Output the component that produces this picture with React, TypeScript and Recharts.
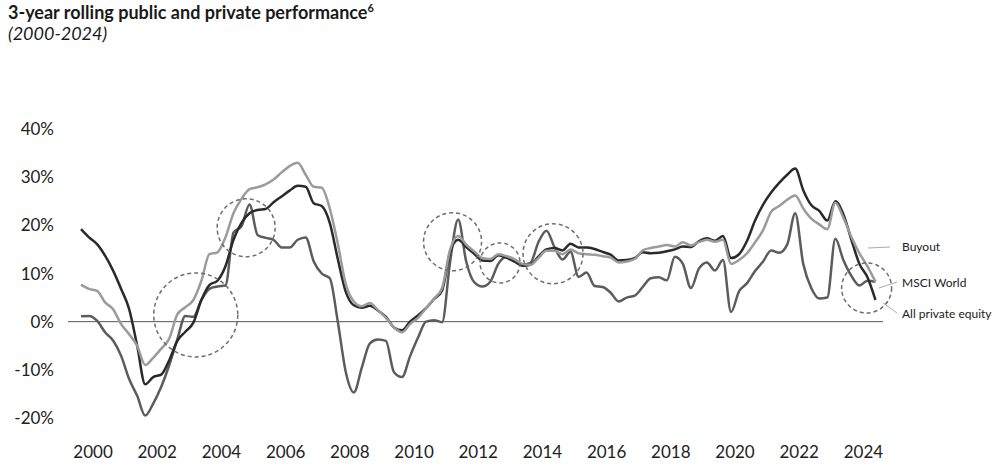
import { LineChart, Line, XAxis, YAxis, ReferenceLine, ReferenceDot } from 'recharts'

// quarterly readings, first point ~ mid 1999, last ~ mid 2024
const startYear = 1999.625
const step = 0.25

const allPrivateEquity = [
  19.2, 17.5, 16.1, 13.7, 10.6, 6.8, 2.6, -5.0, -13.0, -11.5,
  -11.0, -8.0, -4.0, -2.1, -0.2, 4.5, 7.6, 8.5, 11.5, 17.0,
  20.5, 22.5, 23.2, 23.4, 24.8, 26.0, 27.2, 28.2, 28.0, 24.6,
  24.0, 20.5, 13.0, 6.2, 3.4, 2.9, 3.3, 2.3, 1.0, -1.2,
  -1.8, 0.0, 1.3, 2.8, 4.7, 6.5, 14.5, 17.0, 15.5, 14.1,
  12.7, 12.6, 13.8, 13.3, 12.5, 11.6, 11.8, 13.5, 15.0, 15.3,
  14.8, 16.2, 15.4, 15.4, 15.1, 14.5, 13.9, 12.7, 12.8, 13.2,
  14.4, 14.2, 14.3, 14.6, 15.0, 15.6, 15.5, 16.7, 17.3, 16.8,
  17.8, 13.2, 14.0, 16.8, 21.0, 24.3, 26.8, 28.8, 30.5, 31.8,
  27.3, 24.2, 23.0, 21.0, 25.0, 22.3, 17.0, 12.0, 9.2, 4.5,
]

const buyout = [
  7.7, 6.8, 6.4, 4.0, 2.6, -0.5, -2.6, -5.0, -9.0, -7.5,
  -5.6, -3.5, 1.5, 3.0, 4.5, 8.5, 14.0, 14.4, 17.5, 22.5,
  25.5, 27.5, 27.9, 28.5, 29.5, 31.0, 32.3, 33.0, 30.5, 28.0,
  27.8, 23.5, 16.2, 7.8, 4.2, 3.2, 3.9, 2.4, 0.8, -1.2,
  -2.2, -0.5, 0.8, 2.8, 4.8, 7.0, 15.0, 17.8, 16.0, 14.6,
  13.2, 13.0, 14.0, 13.6, 13.0, 12.0, 11.8, 13.2, 14.7, 14.7,
  14.0, 15.0, 14.2, 14.0, 13.9, 13.6, 13.3, 12.3, 12.5, 13.0,
  14.8, 15.3, 15.6, 15.9, 15.6, 16.5, 15.8, 16.5, 17.0, 16.6,
  17.0, 12.0, 12.8, 14.2, 16.5, 19.0, 22.8, 24.0, 25.3, 26.2,
  23.5, 21.4, 20.2, 19.2, 24.7, 21.6, 17.6, 14.2, 11.5, 8.3,
]

const msciWorld = [
  1.1, 1.2, 0.2, -2.2, -3.9, -7.1, -11.9, -15.4, -19.5, -17.0,
  -13.5, -9.0, -3.7, 1.2, 1.0, 4.5, 6.8, 7.3, 7.5, 18.5,
  19.8, 24.3, 18.0, 17.4, 17.0, 15.4, 15.4, 17.0, 17.5, 12.5,
  10.0, 9.0, 0.0, -10.5, -14.7, -9.5, -4.5, -3.7, -4.0, -10.5,
  -11.5, -7.2, -3.3, 0.0, 0.3, -0.1, 12.5, 21.2, 12.5, 8.2,
  7.3, 8.3, 12.0, 13.5, 12.7, 11.8, 12.2, 16.5, 18.9, 15.5,
  12.9, 14.5, 9.3, 10.2, 7.4, 7.2, 6.0, 4.2, 5.0, 5.4,
  7.2, 9.0, 9.2, 8.6, 13.5, 12.0, 7.0, 11.0, 12.3, 10.6,
  12.8, 2.0, 6.3, 8.0, 10.5, 12.5, 14.8, 14.3, 16.0, 22.5,
  12.0, 7.0, 4.8, 5.0, 17.2, 12.8, 9.5, 7.5, 8.5, 8.3,
]

const yearTicks = [2000, 2002, 2004, 2006, 2008, 2010, 2012, 2014, 2016, 2018, 2020, 2022, 2024]
const valueTicks = [-20, -10, 0, 10, 20, 30, 40]

// dashed circles highlighting periods
const highlights = [
  { year: 2003.2, value: 1.4, r: 42 },
  { year: 2004.77, value: 19.5, r: 29 },
  { year: 2011.2, value: 16.6, r: 29 },
  { year: 2012.68, value: 12.2, r: 20 },
  { year: 2014.33, value: 14.1, r: 30 },
  { year: 2024.1, value: 7.0, r: 25 },
]

const rows = allPrivateEquity.map((v, i) => ({
  t: startYear + i * step,
  pe: v,
  buyout: buyout[i],
  msci: msciWorld[i],
}))

const font = 'Lato, "Open Sans", sans-serif'
const tickStyle = { fontSize: 17, fill: '#222', fontFamily: font }

export default function App() {
  return (
    <div style={{ position: 'absolute', left: 0, top: 0, width: 993, height: 473, background: '#fff', fontFamily: font }}>
      <div style={{ position: 'absolute', left: 8, top: 1, fontSize: 18, fontWeight: 700, color: '#1a1a1a', whiteSpace: 'nowrap', lineHeight: '22px' }}>
        3-year rolling public and private performance<sup style={{ fontSize: 11, lineHeight: 0 }}>6</sup>
      </div>
      <div style={{ position: 'absolute', left: 8, top: 22, fontSize: 18, fontStyle: 'italic', color: '#1a1a1a', lineHeight: '22px' }}>
        (2000-2024)
      </div>
      <LineChart width={993} height={473} data={rows} margin={{ top: 129, right: 110, bottom: 10, left: 0 }}>
        <XAxis
          dataKey="t"
          type="number"
          domain={[1999.22, 2024.61]}
          ticks={yearTicks}
          allowDataOverflow
          axisLine={false}
          tickLine={false}
          tickMargin={22}
          height={45}
          tick={tickStyle}
        />
        <YAxis
          domain={[-20, 40]}
          ticks={valueTicks}
          width={68}
          axisLine={false}
          tickLine={false}
          tickMargin={8}
          tickFormatter={(v) => `${v}%`}
          tick={tickStyle}
        />
        <ReferenceLine y={0} stroke="#555" strokeWidth={1} />
        <Line dataKey="msci" type="monotone" stroke="#5c5c5c" strokeWidth={2.5} dot={false} isAnimationActive={false} />
        <Line dataKey="pe" type="monotone" stroke="#2a2a2a" strokeWidth={2.5} dot={false} isAnimationActive={false} />
        <Line dataKey="buyout" type="monotone" stroke="#9b9b9b" strokeWidth={2.5} dot={false} isAnimationActive={false} />
        {highlights.map((h, i) => (
          <ReferenceDot
            key={i}
            x={h.year}
            y={h.value}
            r={h.r}
            fill="none"
            stroke="#6e6e6e"
            strokeWidth={1.5}
            strokeDasharray="4 3"
            ifOverflow="visible"
          />
        ))}
      </LineChart>
      <svg width={993} height={473} style={{ position: 'absolute', left: 0, top: 0, pointerEvents: 'none' }}>
        <line x1={868} y1={248} x2={890} y2={247} stroke="#aaa" strokeWidth={1} />
        <line x1={879} y1={288} x2={897} y2={282} stroke="#aaa" strokeWidth={1} />
        <line x1={883} y1={303} x2={897} y2={313} stroke="#aaa" strokeWidth={1} />
        <text x={902} y={247} dy="0.35em" fontSize={12} fill="#222" fontFamily={font}>Buyout</text>
        <text x={902} y={283} dy="0.35em" fontSize={12} fill="#222" fontFamily={font}>MSCI World</text>
        <text x={902} y={314} dy="0.35em" fontSize={12} fill="#222" fontFamily={font}>All private equity</text>
      </svg>
    </div>
  )
}
